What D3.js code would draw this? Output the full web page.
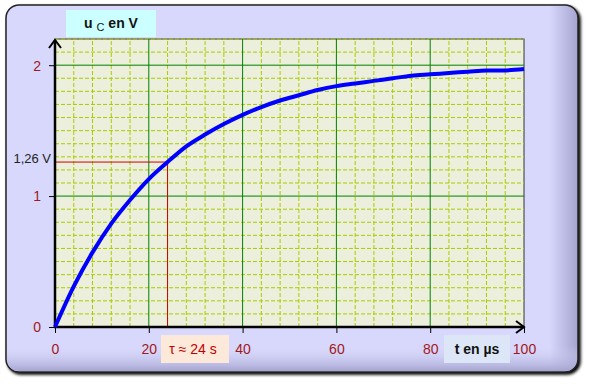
<!DOCTYPE html>
<html><head><meta charset="utf-8">
<script src="https://cdn.jsdelivr.net/npm/d3@7/dist/d3.min.js"></script>
<style>body{margin:0;background:#fff;}svg{display:block;}</style>
</head><body>
<svg id="c" width="589" height="384"></svg>
<script>
// Data
const tValues = [0,4,8,12,16,20,24,28,32,36,40,44,48,52,56,60,64,68,72,76,80,84,88,92,96,100];
const uValues = [0,0.31,0.57,0.79,0.97,1.13,1.26,1.38,1.47,1.55,1.62,1.68,1.73,1.77,1.81,1.84,1.86,1.88,1.90,1.92,1.93,1.94,1.95,1.96,1.96,1.97];
const xTicks = [0,20,40,60,80,100];
const yTicks = [0,1,2];
const tauValue = 24;
const uTau = 1.26;
const labels = {y:"en V", ySub:"C", x:"t en µs", tau:"τ ≈ 24 s", uTau:"1,26 V"};

const svg = d3.select("#c");
const defs = svg.append("defs");
const g1 = defs.append("linearGradient").attr("id","shadeR").attr("x1",0).attr("x2",1).attr("y1",0).attr("y2",0);
g1.append("stop").attr("offset","0.95").attr("stop-color","#d8d8fc");
g1.append("stop").attr("offset","1").attr("stop-color","#a4a4d0");
const g2 = defs.append("linearGradient").attr("id","shadeB").attr("x1",0).attr("x2",0).attr("y1",0).attr("y2",1);
g2.append("stop").attr("offset","0.93").attr("stop-color","#d8d8fc").attr("stop-opacity",0);
g2.append("stop").attr("offset","1").attr("stop-color","#a4a4d0").attr("stop-opacity",1);
const flt = defs.append("filter").attr("id","sh").attr("x","-5%").attr("y","-5%").attr("width","110%").attr("height","110%");
flt.append("feGaussianBlur").attr("in","SourceAlpha").attr("stdDeviation",1.5);
flt.append("feOffset").attr("dx",2).attr("dy",2).attr("result","b");
const fm = flt.append("feMerge"); fm.append("feMergeNode").attr("in","b"); fm.append("feMergeNode").attr("in","SourceGraphic");

// Panel
svg.append("rect").attr("x",6).attr("y",5).attr("width",572).attr("height",367).attr("rx",13)
  .attr("fill","url(#shadeR)").attr("stroke","#222").attr("stroke-width",1.5).attr("filter","url(#sh)");
svg.append("rect").attr("x",7).attr("y",6).attr("width",570).attr("height",365).attr("rx",12)
  .attr("fill","url(#shadeB)");

const x = d3.scaleLinear().domain([0,100]).range([55,524]);
const y = d3.scaleLinear().domain([0,2.2]).range([327,39]);

// Plot background
svg.append("rect").attr("x",x(0)).attr("y",y(2.2)).attr("width",x(100)-x(0)).attr("height",y(0)-y(2.2))
  .attr("fill","#ebefdc").attr("stroke","#333").attr("stroke-width",1);

// Minor grid
const gx = d3.range(4,100,4).filter(v=>v%20!==0);
const gy = d3.range(1,23).map(v=>v/10).filter(v=>Math.abs(v-Math.round(v))>1e-6);
svg.append("g").selectAll("line").data(gx).join("line")
  .attr("x1",d=>x(d)).attr("x2",d=>x(d)).attr("y1",y(0)).attr("y2",y(2.2))
  .attr("stroke","#a8cc00").attr("stroke-width",1).attr("stroke-dasharray","4,2");
svg.append("g").selectAll("line").data(gy).join("line")
  .attr("x1",x(0)).attr("x2",x(100)).attr("y1",d=>y(d)).attr("y2",d=>y(d))
  .attr("stroke","#a8cc00").attr("stroke-width",1).attr("stroke-dasharray","4,2");
// Major grid
svg.append("g").selectAll("line").data(xTicks.slice(1,-1)).join("line")
  .attr("x1",d=>x(d)).attr("x2",d=>x(d)).attr("y1",y(0)).attr("y2",y(2.2))
  .attr("stroke","#008000").attr("stroke-width",1);
svg.append("g").selectAll("line").data(yTicks.slice(1)).join("line")
  .attr("x1",x(0)).attr("x2",x(100)).attr("y1",d=>y(d)).attr("y2",d=>y(d))
  .attr("stroke","#008000").attr("stroke-width",1);

// Tau red lines
svg.append("path").attr("d",`M${x(0)},${y(uTau)}H${x(tauValue)}V${y(0)}`)
  .attr("fill","none").attr("stroke","#cc0000").attr("stroke-width",1);

// Axes
const xAxis = d3.axisBottom(x).tickValues(xTicks).tickSize(6).tickFormat(d3.format("d"));
const yAxis = d3.axisLeft(y).tickValues(yTicks).tickSize(6).tickFormat(d=>d);
const ax = svg.append("g").attr("transform",`translate(0,${y(0)})`).call(xAxis);
ax.select(".domain").remove();
ax.selectAll("text").attr("dy",0).attr("y",27).attr("fill","#a01820").attr("font-family","Liberation Sans, Arial, sans-serif").attr("font-size",14);
ax.selectAll("line").attr("stroke","#000");
const ay = svg.append("g").attr("transform",`translate(${x(0)},0)`).call(yAxis);
ay.select(".domain").remove();
ay.selectAll("text").attr("x",-14).attr("dy","0.35em").attr("fill","#a01820").attr("font-family","Liberation Sans, Arial, sans-serif").attr("font-size",14);
ay.selectAll("line").attr("stroke","#000");

// 1,26 V label
svg.append("text").attr("x",51).attr("y",y(uTau)).attr("dy","0.1em").attr("text-anchor","end")
  .attr("font-family","Liberation Sans, Arial, sans-serif").attr("font-size",13).attr("fill","#222").text(labels.uTau);

// Axis lines with arrows
svg.append("line").attr("x1",x(0)).attr("x2",x(0)).attr("y1",y(0)+1).attr("y2",y(2.2)+1).attr("stroke","#000").attr("stroke-width",2.5);
svg.append("path").attr("d",`M${x(0)-6},${y(2.2)+9}L${x(0)},${y(2.2)+1}L${x(0)+6},${y(2.2)+9}`).attr("fill","none").attr("stroke","#000").attr("stroke-width",2);
svg.append("line").attr("x1",x(0)-1).attr("x2",x(100)).attr("y1",y(0)).attr("y2",y(0)).attr("stroke","#000").attr("stroke-width",2.5);
svg.append("path").attr("d",`M${x(100)-8},${y(0)-6}L${x(100)},${y(0)}L${x(100)-8},${y(0)+6}`).attr("fill","none").attr("stroke","#000").attr("stroke-width",2);

// Curve
const line = d3.line().x((d,i)=>x(tValues[i])).y(d=>y(d)).curve(d3.curveMonotoneX);
svg.append("path").datum(uValues).attr("d",line).attr("fill","none").attr("stroke","#0000ff").attr("stroke-width",4);

// Label boxes
svg.append("rect").attr("x",66).attr("y",10).attr("width",90).attr("height",27).attr("fill","#ccffff");
const yl = svg.append("text").attr("x",111).attr("y",28).attr("text-anchor","middle")
  .attr("font-family","Liberation Sans, Arial, sans-serif").attr("font-size",14).attr("font-weight","bold").attr("fill","#111");
yl.append("tspan").text("u ");
yl.append("tspan").attr("font-size",11).attr("font-weight","normal").attr("dy",3).text(labels.ySub);
yl.append("tspan").attr("dy",-3).text(" " + labels.y);

svg.append("rect").attr("x",161).attr("y",335).attr("width",68).attr("height",28).attr("fill","#fde9d9");
svg.append("text").attr("x",193).attr("y",354).attr("text-anchor","middle")
  .attr("font-family","Liberation Sans, Arial, sans-serif").attr("font-size",14).attr("fill","#c00000").text(labels.tau);

svg.append("rect").attr("x",444).attr("y",335).attr("width",66).attr("height",28).attr("fill","#dce6f6");
svg.append("text").attr("x",477).attr("y",354).attr("text-anchor","middle")
  .attr("font-family","Liberation Sans, Arial, sans-serif").attr("font-size",14).attr("font-weight","bold").attr("fill","#111").text(labels.x);
</script>
</body></html>
